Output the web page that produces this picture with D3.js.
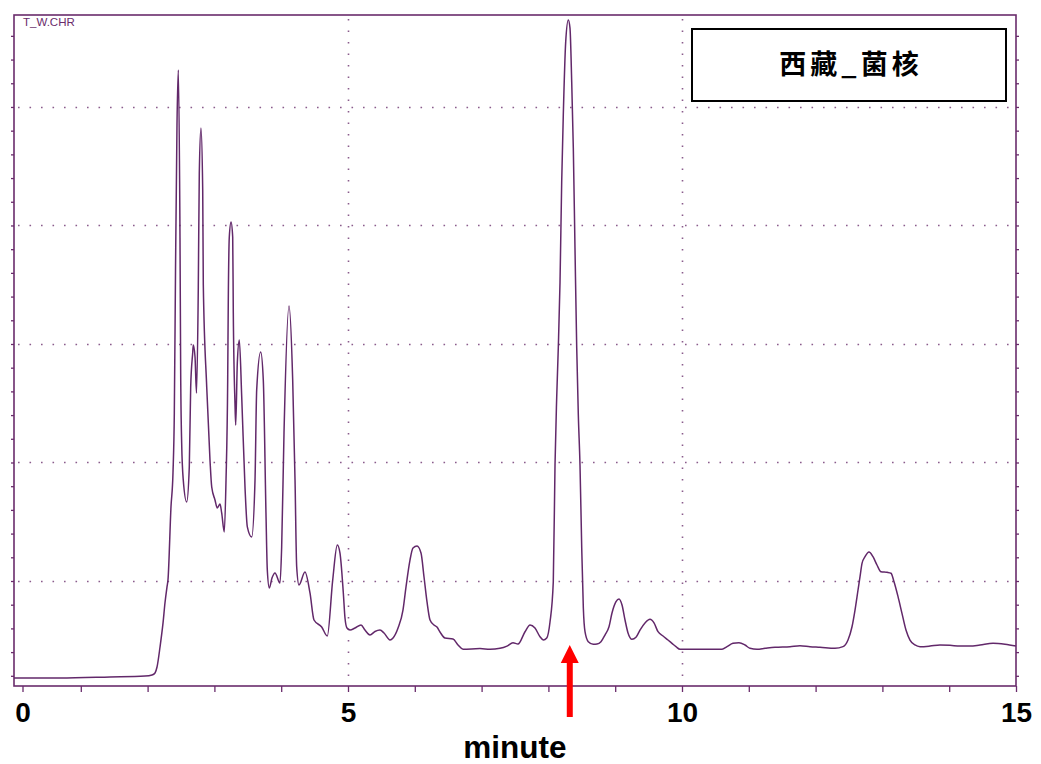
<!DOCTYPE html>
<html><head><meta charset="utf-8">
<script src="https://cdn.jsdelivr.net/npm/d3@7"></script>
<style>body{margin:0;background:#fff}</style>
</head><body>
<svg id="c" width="1041" height="764"></svg>
<script>
// Retention time (minutes)
const times = [0,0.689,1.437,1.961,2.066,2.111,2.141,2.186,2.231,2.260,2.290,2.305,2.350,2.380,2.400,2.418,2.440,2.460,2.485,2.495,2.510,2.534,2.585,2.624,2.645,2.675,2.684,2.710,2.732,2.759,2.774,2.799,2.825,2.834,2.885,2.934,2.960,3.009,3.043,3.084,3.109,3.148,3.174,3.199,3.208,3.223,3.249,3.274,3.283,3.308,3.319,3.343,3.373,3.409,3.458,3.493,3.558,3.608,3.633,3.693,3.732,3.772,3.792,3.822,3.862,3.907,3.982,4.007,4.042,4.117,4.172,4.207,4.232,4.266,4.356,4.431,4.491,4.606,4.690,4.771,4.840,4.880,4.930,4.955,4.985,5.030,5.105,5.195,5.254,5.329,5.404,5.479,5.539,5.629,5.674,5.749,5.823,5.868,5.928,5.973,6.033,6.093,6.138,6.183,6.228,6.287,6.332,6.377,6.452,6.572,6.647,6.722,6.976,7.126,7.275,7.380,7.470,7.545,7.650,7.725,7.799,7.874,7.924,7.975,8.024,8.073,8.099,8.124,8.148,8.174,8.199,8.223,8.259,8.298,8.323,8.349,8.373,8.398,8.424,8.448,8.473,8.499,8.523,8.548,8.597,8.672,8.728,8.787,8.847,8.907,8.952,9.012,9.057,9.102,9.147,9.192,9.251,9.311,9.371,9.446,9.521,9.581,9.641,9.716,9.790,9.850,9.910,9.970,10.599,10.674,10.763,10.853,10.943,11.018,11.123,11.243,11.392,11.617,11.766,11.916,12.066,12.290,12.410,12.485,12.545,12.590,12.635,12.665,12.695,12.740,12.799,12.859,12.919,12.979,13.069,13.129,13.174,13.234,13.293,13.353,13.413,13.488,13.563,13.713,13.862,14.012,14.162,14.311,14.461,14.656,14.835,15.0];
// Detector signal (arbitrary units)
const signal = [18.1,18.1,19.0,19.8,20.7,22.4,27.4,44.3,64.6,81.4,94.9,100.8,162.4,191.1,241.8,362.4,484.8,531.2,389.5,278.1,216.5,185.2,166.7,196.2,263.7,292.4,299.2,289.0,258.6,348.1,444.3,482.3,430.0,349.8,263.7,202.1,179.3,168.4,161.6,165.0,157.4,141.4,185.2,269.6,337.1,390.3,403.0,390.3,326.2,250.2,231.6,284.0,303.4,255.3,179.3,145.6,137.1,185.2,261.2,293.2,269.6,157.4,109.3,94.1,102.5,106.8,98.3,128.7,224.9,332.1,269.6,185.2,111.8,96.6,107.6,89.9,67.1,61.2,53.6,100.8,130.4,123.6,89.9,68.8,60.3,58.6,60.3,62.9,58.6,54.4,57.4,58.6,56.1,50.2,51.9,60.3,75.5,94.9,117.7,127.8,129.5,123.6,103.4,82.3,67.1,62.9,61.2,57.0,51.9,51.1,46.0,42.4,43.0,42.4,43.2,45.1,47.9,46.8,57.2,62.9,60.3,53.0,50.2,51.9,65.4,99.2,197.9,254.4,296.6,352.3,436.7,493.2,554.9,573.4,566.7,521.1,465.4,381.0,296.6,240.1,197.9,127.8,77.2,57.2,48.8,46.6,46.8,48.8,54.4,61.4,73.0,82.5,84.8,79.7,67.1,56.1,50.8,52.5,58.6,64.6,67.7,64.6,57.2,53.6,50.2,47.4,44.6,42.4,42.4,44.6,47.4,47.9,46.0,43.2,42.4,43.2,44.1,44.6,45.4,44.6,44.1,43.2,44.6,50.2,61.4,75.5,92.4,103.6,114.9,120.5,124.5,120.5,113.5,107.8,107.3,106.5,99.4,86.8,72.7,58.6,50.2,46.0,44.6,45.1,46.0,45.7,45.1,45.1,46.0,47.4,46.6,45.1];

const xTicks = [0,1,2,3,4,5,6,7,8,9,10,11,12,13,14,15];
const xLabels = [0,5,10,15];
const xGrid = [5,10];
const yGrid = [100,200,300,400,500];
const yMinor = [20,40,60,80,100,120,140,160,180,200,220,240,260,280,300,320,340,360,380,400,420,440,460,480,500,520,540,560];
const titleText = "西藏_菌核";
const fileLabel = "T_W.CHR";
const xTitle = "minute";
const markerTime = 8.32;

const L = 14, R = 1016, T = 15, B = 686;
const purple = "#6a2c6c";
const svg = d3.select("#c");
svg.append("rect").attr("width",1041).attr("height",764).attr("fill","#fff");

const x = d3.scaleLinear().domain([0,15]).range([L,R]);
const y = d3.scaleLinear().domain([11.4,577.6]).range([B,T]);

// grid
const grid = svg.append("g").attr("stroke","#8a5c8c").attr("stroke-width",1.6).attr("stroke-dasharray","1.6,9.9");
grid.selectAll("line.h").data(yGrid).join("line").attr("class","h")
  .attr("x1",L+4).attr("x2",R).attr("y1",d=>Math.round(y(d))+0.5).attr("y2",d=>Math.round(y(d))+0.5);
grid.selectAll("line.v").data(xGrid).join("line").attr("class","v")
  .attr("y1",T+4).attr("y2",B).attr("x1",d=>Math.round(x(d))+0.5).attr("x2",d=>Math.round(x(d))+0.5);

// trace
const data = times.map((t,i)=>({t, v: signal[i]}));
svg.append("path").datum(data)
  .attr("fill","none").attr("stroke","#62286a").attr("stroke-width",1.5).attr("stroke-linejoin","round")
  .attr("d", d3.line().x(d=>x(d.t)).y(d=>y(d.v)).curve(d3.curveMonotoneX));

// frame
svg.append("rect").attr("x",L).attr("y",T).attr("width",R-L).attr("height",B-T)
  .attr("fill","none").attr("stroke",purple).attr("stroke-width",1.6);

// left & right minor ticks
const la = svg.append("g").attr("transform",`translate(${L},0)`)
  .call(d3.axisLeft(y).tickValues(yMinor).tickSize(3).tickFormat(""));
const ra = svg.append("g").attr("transform",`translate(${R},0)`)
  .call(d3.axisRight(y).tickValues(yMinor).tickSize(3).tickFormat(""));
[la,ra].forEach(g=>{g.select(".domain").remove(); g.selectAll("line").attr("stroke",purple).attr("stroke-width",1.3);});

// bottom axis
const ba = svg.append("g").attr("transform",`translate(0,${B})`)
  .call(d3.axisBottom(x).tickValues(xTicks).tickSize(6).tickPadding(10)
    .tickFormat(d=> xLabels.includes(d) ? String(d) : ""));
ba.select(".domain").remove();
ba.selectAll("line").attr("stroke",purple).attr("stroke-width",1.3);
ba.selectAll("text").attr("font-family","Arial, 'Liberation Sans', sans-serif")
  .attr("font-size",28).attr("font-weight","bold").attr("fill","#000");
ba.selectAll(".tick").filter(d=>d===0).attr("transform",`translate(${x(0)+9},0)`);

// axis title
svg.append("text").attr("x",(L+R)/2).attr("y",758).attr("text-anchor","middle")
  .attr("font-family","Arial, 'Liberation Sans', sans-serif").attr("font-size",31.5).attr("font-weight","bold")
  .attr("fill","#000").text(xTitle);

// file label
svg.append("text").attr("x",L+9).attr("y",26)
  .attr("font-family","Arial, 'Liberation Sans', sans-serif").attr("font-size",11.5)
  .attr("fill",purple).text(fileLabel);

// title box
svg.append("rect").attr("x",692).attr("y",29).attr("width",314).attr("height",72)
  .attr("fill","#fff").attr("stroke","#000").attr("stroke-width",2);
svg.append("text").attr("x",851).attr("y",74).attr("text-anchor","middle")
  .attr("font-family","'Noto Sans CJK SC', 'Noto Sans CJK TC', sans-serif").attr("font-size",27)
  .attr("font-weight","bold").attr("letter-spacing",4).attr("fill","#000").text(titleText);

// red arrow marker
const ax = x(markerTime);
svg.append("rect").attr("x",ax-3).attr("y",660).attr("width",6).attr("height",57).attr("fill","#ff0000");
svg.append("path").attr("d",`M${ax-9},663 L${ax+9},663 L${ax},645 Z`).attr("fill","#ff0000");
</script>
</body></html>
